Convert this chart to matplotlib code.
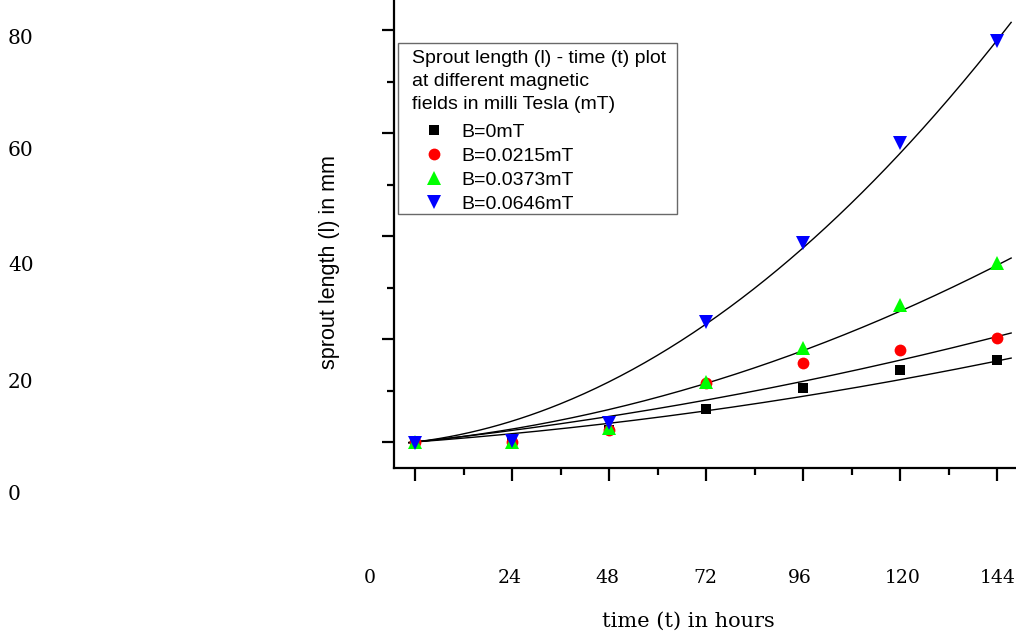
import numpy as np
import matplotlib
matplotlib.use("Agg")
import matplotlib.pyplot as plt
from matplotlib.ticker import MultipleLocator, NullFormatter
from matplotlib.path import Path
from matplotlib.transforms import Affine2D

# ---- data (measured points) ----
time_h = [0, 24, 48, 72, 96, 120, 144]
len_b0 = [0.0, 0.2, 2.3, 6.4, 10.5, 14.0, 15.9]
len_b0215 = [0.0, 0.0, 2.3, 11.5, 15.3, 17.9, 20.2]
len_b0373 = [0.0, 0.0, 2.7, 11.7, 18.3, 26.6, 34.8]
len_b0646 = [-0.2, 0.2, 3.7, 23.3, 38.6, 58.0, 77.9]

# ---- fitted trend curves at these times ----
fit_time_h = [0, 72, 96, 120, 144]
fit_b0 = [0.0, 5.8, 8.9, 12.5, 15.5]
fit_b0215 = [0.0, 7.8, 11.9, 16.3, 20.2]
fit_b0373 = [0.0, 11.3, 17.7, 25.6, 34.2]
fit_b0646 = [0.0, 22.9, 37.7, 56.0, 78.0]

series_labels = ["B=0mT", "B=0.0215mT", "B=0.0373mT", "B=0.0646mT"]
x_tick_labels = ["0", "24", "48", "72", "96", "120", "144"]
y_tick_labels = ["80", "60", "40", "20", "0"]
legend_title = "Sprout length (l) - time (t) plot\nat different magnetic\nfields in milli Tesla (mT)"

W, H = 1016, 636
fig = plt.figure(figsize=(W / 100, H / 100), dpi=100)

# inner axes (pixel layout)
left_px, bottom_px = 394, 468
ax = fig.add_axes([left_px / W, 1 - bottom_px / H, (W - left_px) / W, bottom_px / H])
x0_px, px_per_h = 415, 97 / 24
y0_px, px_per_mm = 442, 103 / 20
ax.set_xlim((left_px - x0_px) / px_per_h, (W - x0_px) / px_per_h)
ax.set_ylim((y0_px - bottom_px) / px_per_mm, y0_px / px_per_mm)

for s in ["top", "right"]:
    ax.spines[s].set_visible(False)
for s in ["left", "bottom"]:
    ax.spines[s].set_linewidth(1.6)

ax.xaxis.set_major_locator(MultipleLocator(24))
ax.xaxis.set_minor_locator(MultipleLocator(12))
ax.yaxis.set_major_locator(MultipleLocator(20))
ax.yaxis.set_minor_locator(MultipleLocator(10))
ax.xaxis.set_major_formatter(NullFormatter())
ax.yaxis.set_major_formatter(NullFormatter())
ax.tick_params(which="major", direction="out", length=9, width=1.6)
ax.tick_params(which="minor", direction="out", length=5, width=1.6)

styles = [
    dict(marker="s", color="black", ms=7),
    dict(marker="o", color="red", ms=8.5),
    dict(marker="^", color="#00ff00", ms=9.5),
    dict(marker="v", color="blue", ms=9.5),
]
all_series = [len_b0, len_b0215, len_b0373, len_b0646]
all_fits = [fit_b0, fit_b0215, fit_b0373, fit_b0646]

# smooth quadratic through origin (l = a t + b t^2) through the read curve values
ft = np.asarray(fit_time_h, dtype=float)
A = np.column_stack([ft, ft ** 2])
tt = np.linspace(-1.5, 147.5, 300)
for fv in all_fits:
    coef, *_ = np.linalg.lstsq(A, np.asarray(fv), rcond=None)
    yy = coef[0] * tt + coef[1] * tt ** 2
    ax.plot(tt, yy, color="black", lw=1.0, zorder=2)
    slope = coef[0] + 2 * coef[1] * tt[-1]
    ax.annotate("", xy=(tt[-1] + 1.8, yy[-1] + slope * 1.8),
                xytext=(tt[-1] - 0.5, yy[-1] - slope * 0.5),
                arrowprops=dict(arrowstyle="-|>", color="black", lw=1.0,
                                mutation_scale=12, shrinkA=0, shrinkB=0))

handles = []
for ys, st, lab in zip(all_series, styles, series_labels):
    h, = ax.plot(time_h, ys, linestyle="none", marker=st["marker"], color=st["color"],
                 markersize=st["ms"], markeredgewidth=0, label=lab, zorder=3)
    handles.append(h)

pad_left, pad_right, trim_bottom = 7, 4, 5


def legend_frame(x0, y0, width, height, mutation_size):
    x0 -= pad_left
    width += pad_left + pad_right
    y0 += trim_bottom
    height -= trim_bottom
    return Path.unit_rectangle().transformed(
        Affine2D().scale(width, height).translate(x0, y0))


leg = ax.legend(handles=handles, title=legend_title, loc="upper left",
                bbox_to_anchor=((398 + pad_left - left_px) / (W - left_px), 1 - 43 / bottom_px),
                borderaxespad=0, frameon=True, fancybox=False, edgecolor="#444444",
                prop=dict(family="Liberation Sans", size=14),
                title_fontproperties=dict(family="Liberation Sans", size=14),
                labelspacing=0.33, handletextpad=0.25, handlelength=2.3,
                borderpad=0.35, markerscale=1.0)
leg._legend_box.align = "left"
leg._legend_box.sep = 7.5
leg.get_title().set_linespacing(1.45)
leg.get_frame().set_linewidth(1.0)
leg.get_frame().set_boxstyle(legend_frame)

ax.set_ylabel("sprout length (l) in mm", family="Liberation Sans", fontsize=15.5)
ax.yaxis.set_label_coords(-(left_px - 340) / (W - left_px), 1 - (262 / bottom_px))

# outer labels (layout positions in pixels)
x_label_px = [370, 510, 607, 705, 800, 903, 998]
for lab, xp in zip(x_tick_labels, x_label_px):
    fig.text(xp / W, 1 - 578 / H, lab, ha="center", va="center",
             family="DejaVu Serif", fontsize=13.5)
y_label_py = [38, 150, 265, 383, 495]
for lab, yp in zip(y_tick_labels, y_label_py):
    fig.text(8 / W, 1 - yp / H, lab, ha="left", va="center",
             family="DejaVu Serif", fontsize=14.5)
fig.text(688 / W, 1 - 621 / H, "time (t) in hours", ha="center", va="center",
         family="DejaVu Serif", fontsize=15)

fig.savefig("out.png", dpi=100)
